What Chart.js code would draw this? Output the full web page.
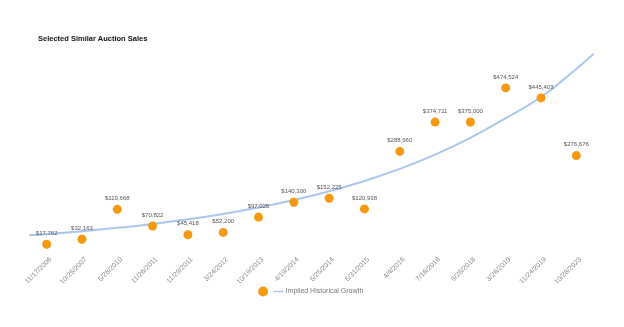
<!DOCTYPE html>
<html>
<head>
<meta charset="utf-8">
<script src="https://cdn.jsdelivr.net/npm/chart.js@4.4.1/dist/chart.umd.min.js"></script>
<style>
  html, body { margin: 0; padding: 0; background: #fff; }
  #wrap { position: relative; width: 624px; height: 327px; }
  #title { position: absolute; left: 38px; top: 34px; font: bold 7.5px 'Liberation Sans', Arial, sans-serif; color: #111; }
</style>
</head>
<body>
<div id="wrap">
  <div id="title">Selected Similar Auction Sales</div>
  <canvas id="c"></canvas>
</div>
<script>
// sale dates and hammer prices
const saleDates = ['11/17/2006', '10/25/2007', '5/28/2010', '11/26/2011', '11/29/2011', '3/24/2012',
  '10/19/2013', '4/19/2014', '5/25/2014', '5/31/2015', '4/4/2016', '7/16/2016',
  '9/26/2018', '3/26/2019', '11/24/2019', '10/28/2023'];
const salePrices = [17762, 32163, 119668, 70822, 45418, 52200, 97025, 140300,
  152225, 120938, 288960, 374711, 375000, 474524, 445403, 276676];

const trendSlots = [-0.5, 0, 1, 2, 3, 4, 5, 6, 7, 8, 9, 10, 11, 12, 13, 14, 15, 15.5];
const trendValues = [43800, 47500, 55800, 65600, 77000, 90500, 106300, 124900, 146800,
  172500, 202700, 238100, 279800, 328700, 386300, 448000, 530000, 575000];

const LEGEND_TEXT = 'Implied Historical Growth';
const ORANGE = '#f7990f';
const BLUE = '#aac6ee';

const priceLabels = {
  id: 'priceLabels',
  afterDatasetsDraw(chart) {
    const ctx = chart.ctx;
    const meta = chart.getDatasetMeta(0);
    ctx.save();
    ctx.font = "6px 'Liberation Sans', Arial, sans-serif";
    ctx.fillStyle = '#555';
    ctx.textAlign = 'center';
    ctx.textBaseline = 'middle';
    meta.data.forEach((pt, i) => {
      ctx.fillText('$' + salePrices[i].toLocaleString('en-US'), pt.x, pt.y - 11);
    });
    ctx.restore();
  }
};

new Chart(document.getElementById('c'), {
  type: 'line',
  data: {
    labels: saleDates,
    datasets: [{
      label: '',
      data: salePrices,
      showLine: false,
      pointRadius: 4.5,
      pointHoverRadius: 4.5,
      backgroundColor: ORANGE,
      borderColor: ORANGE,
      pointBorderWidth: 0,
      xAxisID: 'x',
    }, {
      label: LEGEND_TEXT,
      data: trendSlots.map((s, i) => ({ x: s, y: trendValues[i] })),
      xAxisID: 'xt',
      borderColor: BLUE,
      backgroundColor: BLUE,
      borderWidth: 2,
      pointRadius: 0,
      pointStyle: 'line',
      pointBorderWidth: 1.5,
      tension: 0.4,
      fill: false,
    }],
  },
  options: {
    responsive: true,
    maintainAspectRatio: false,
    animation: false,
    layout: { padding: { top: 45, left: 29, right: 30, bottom: 22 } },
    plugins: {
      tooltip: { enabled: false },
      legend: {
        position: 'bottom',
        labels: {
          usePointStyle: true,
          color: '#777',
          padding: 5,
          font: { size: 7, family: "'Liberation Sans', Arial, sans-serif" },
        },
      },
    },
    scales: {
      x: {
        type: 'category',
        offset: true,
        grid: { display: false },
        border: { display: false },
        ticks: {
          autoSkip: false,
          maxRotation: 45,
          minRotation: 45,
          color: '#888',
          padding: -3,
          labelOffset: 4,
          font: { size: 7, family: "'Liberation Sans', Arial, sans-serif" },
        },
      },
      xt: { type: 'linear', display: false, min: -0.5, max: 15.5 },
      y: { display: false, min: 0, max: 600000 },
    },
  },
  plugins: [priceLabels],
});
</script>
</body>
</html>
